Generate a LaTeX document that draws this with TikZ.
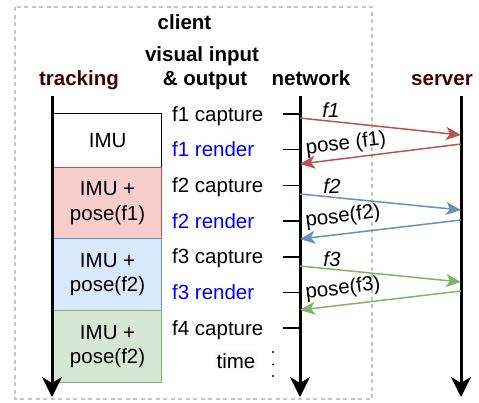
\documentclass[tikz,border=0pt]{standalone}
\usepackage{fontspec}
\setmainfont{Liberation Sans}
\usetikzlibrary{arrows.meta}
\definecolor{dred}{HTML}{400000}
\definecolor{rstroke}{HTML}{B85450}
\definecolor{rfill}{HTML}{F8CECC}
\definecolor{bstroke}{HTML}{6C8EBF}
\definecolor{bfill}{HTML}{DAE8FC}
\definecolor{gstroke}{HTML}{82B366}
\definecolor{gfill}{HTML}{D5E8D4}
\definecolor{blu}{HTML}{0000FF}
\definecolor{boxgray}{HTML}{C4C4C4}
\begin{document}
\begin{tikzpicture}[x=1pt,y=-1pt,
  every node/.style={font=\fontsize{20.5}{24.6}\selectfont, inner sep=0pt},
  hdr/.style={font=\fontsize{20.5}{24.6}\selectfont\bfseries, anchor=base},
  life/.style={line width=3pt, -{Stealth[length=20pt,width=20pt,inset=6pt]}},
  tick/.style={line width=1.6pt},
  msg/.style={line width=1.5pt, -{Stealth[length=15pt,width=13pt,inset=4pt]}},
  stbox/.style={draw, line width=1.2pt, minimum width=108pt, align=center, anchor=north west},
  lbl/.style={anchor=base west},
  ml/.style={font=\fontsize{20.5}{24.6}\selectfont\itshape, anchor=center},
  pl/.style={anchor=center, rotate=7}
]
\useasboundingbox (0,0) rectangle (479,402);
% client box
\draw[boxgray, line width=1.3pt, dash pattern=on 4pt off 3.5pt] (15,7) rectangle (372,399);

% headers
\node[hdr] (client) at (184.5,29.5) {client};
\node[hdr] (vis1) at (202,61) {visual input};
\node[hdr] (vis2) at (205,85) {\& output};
\node[hdr, text=dred] (trk) at (79,85) {tracking};
\node[hdr] (net) at (311,85) {network};
\node[hdr, text=dred] (srv) at (442,85) {server};

% tracking boxes
\node[stbox, minimum height=54pt] (b0) at (53,113) {IMU};
\node[stbox, draw=rstroke, fill=rfill, minimum height=71pt] (b1) at (53,167) {IMU +\\pose(f1)};
\node[stbox, draw=bstroke, fill=bfill, minimum height=72pt] (b2) at (53,238) {IMU +\\pose(f2)};
\node[stbox, draw=gstroke, fill=gfill, minimum height=72pt] (b3) at (53,310) {IMU +\\pose(f2)};

% lifelines
\coordinate (trTop) at (52,96); \coordinate (trBot) at (52,397);
\coordinate (nTop) at (300,96); \coordinate (nBot) at (300,397);
\coordinate (sTop) at (461,96); \coordinate (sBot) at (461,397);
\draw[life] (trTop) -- (trBot);
\draw[life] (nTop) -- (nBot);
\draw[life] (sTop) -- (sBot);

% ticks and labels
\foreach \i/\y/\t/\c in {0/114/f1 capture/black, 1/149.5/f1 render/blu, 2/185.3/f2 capture/black, 3/221/f2 render/blu, 4/256.7/f3 capture/black, 5/292.3/f3 render/blu, 6/328/f4 capture/black}{
  \coordinate (ta\i) at (283,\y);
  \coordinate (tb\i) at (300,\y);
  \draw[tick] (ta\i) -- (tb\i);
  \node[lbl, text=\c] (l\i) at (172,\y+7) {\t};
}

% time
\node[anchor=base, fill=gray!4, inner sep=2pt] (time) at (236,368) {time};
\foreach \k/\y in {1/352,2/364.5,3/376}{
  \fill (273,\y) circle (1.1pt);
}

% messages
\coordinate (m1a) at (300,118); \coordinate (m1b) at (461,135);
\coordinate (r1a) at (461,144); \coordinate (r1b) at (300,164);
\coordinate (m2a) at (300,194); \coordinate (m2b) at (461,210);
\coordinate (r2a) at (461,220); \coordinate (r2b) at (300,239);
\coordinate (m3a) at (300,266); \coordinate (m3b) at (461,282);
\coordinate (r3a) at (461,291); \coordinate (r3b) at (300,310);
\draw[msg, rstroke] (m1a) -- (m1b);
\draw[msg, rstroke] (r1a) -- (r1b);
\draw[msg, bstroke] (m2a) -- (m2b);
\draw[msg, bstroke] (r2a) -- (r2b);
\draw[msg, gstroke] (m3a) -- (m3b);
\draw[msg, gstroke] (r3a) -- (r3b);

\node[ml] (f1l) at (331,110) {f1};
\node[ml] (f2l) at (332,186) {f2};
\node[ml] (f3l) at (332,259) {f3};
\node[pl] (p1l) at (346,144) {pose (f1)};
\node[pl] (p2l) at (343,217) {pose(f2)};
\node[pl] (p3l) at (343,289) {pose(f3)};
\end{tikzpicture}
\end{document}
